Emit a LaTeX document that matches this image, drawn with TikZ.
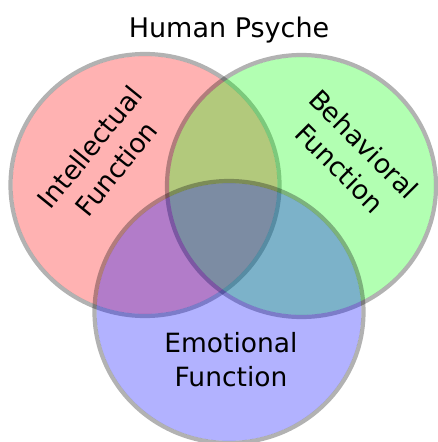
\documentclass[tikz,border=0pt]{standalone}
\usepackage{fontspec}
\setmainfont{DejaVu Sans}
\usetikzlibrary{shapes.geometric}
\definecolor{vred}{RGB}{255,0,0}
\definecolor{vgreen}{RGB}{0,255,0}
\definecolor{vblue}{RGB}{0,0,255}
\begin{document}
\begin{tikzpicture}[x=1pt,y=-1pt,
  setring/.style={ellipse, minimum width=269pt, minimum height=262pt, inner sep=0pt,
    line width=4.2pt, draw=black, draw opacity=0.3},
  setfill/.style={fill opacity=0.3},
  lbl/.style={font=\fontsize{26.5}{34}\selectfont, align=center, inner sep=0pt}]
\useasboundingbox (0,0) rectangle (438,442);
\fill[setfill, vred] (145,185) ellipse [x radius=132.4pt, y radius=128.9pt];
\node[setring] (intel) at (145,185) {};
\fill[setfill, vgreen] (301.5,186) ellipse [x radius=132.4pt, y radius=128.9pt];
\node[setring] (behav) at (301.5,186) {};
\fill[setfill, vblue] (229,312) ellipse [x radius=132.4pt, y radius=128.9pt];
\node[setring] (emot) at (229,312) {};
\node[lbl, anchor=base, font=\fontsize{27}{34}\selectfont] (title) at (229,37) {Human Psyche};
\node[lbl, rotate=51] (tintel) at (103,158) {Intellectual\\Function};
\node[lbl, rotate=-45] (tbehav) at (352,156) {Behavioral\\Function};
\node[lbl] (temot) at (231,360) {Emotional\\Function};
\end{tikzpicture}
\end{document}
